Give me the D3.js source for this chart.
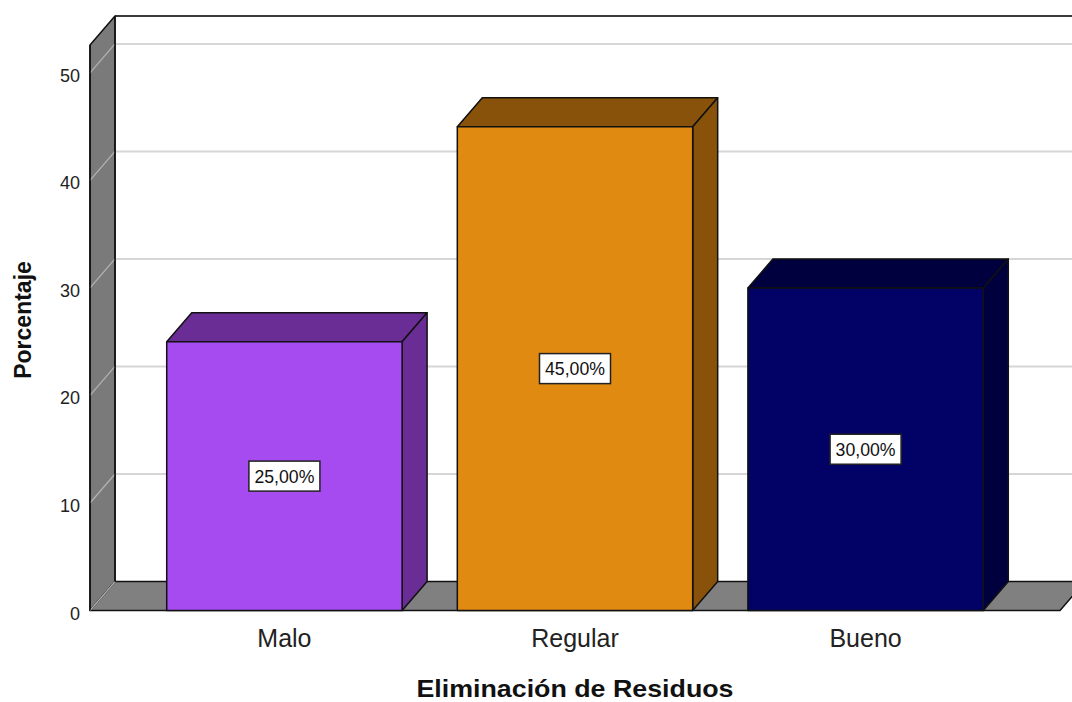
<!DOCTYPE html>
<html>
<head>
<meta charset="utf-8">
<script src="https://cdn.jsdelivr.net/npm/d3@7"></script>
<style>
  html, body { margin: 0; padding: 0; background: #fff; }
  svg { display: block; font-family: "Liberation Sans", Arial, sans-serif; }
</style>
</head>
<body>
<svg id="chart" width="1072" height="702"></svg>
<script>
// Data
const categories = ["Malo", "Regular", "Bueno"];
const values = [25, 45, 30];
const valueLabels = ["25,00%", "45,00%", "30,00%"];
const yTicks = [0, 10, 20, 30, 40, 50];

// Colours per category: front face and shaded faces (top/side)
const frontColors = ["#a64bf0", "#e08a12", "#020266"];
const shadeColors = ["#6a2c95", "#88520a", "#00003f"];

const svg = d3.select("#chart");

// Front plane geometry and 3D depth offset
const x0 = 90, x1 = 1060;
const depthX = 25, depthY = -29;

const x = d3.scaleBand()
  .domain(categories)
  .range([x0, x1])
  .paddingInner(0.19)
  .paddingOuter(0.264);

const y = d3.scaleLinear()
  .domain([0, 52.6])
  .range([610.5, 45]);

const yMax = y.domain()[1];
const pts = a => a.map(p => p.join(",")).join(" ");

// Back wall gridlines
svg.append("g").selectAll("line.grid")
  .data(yTicks.filter(t => t > 0))
  .join("line")
  .attr("x1", x0 + depthX).attr("x2", x1 + depthX + 40)
  .attr("y1", d => y(d) + depthY).attr("y2", d => y(d) + depthY)
  .attr("stroke", "#d6d6d6").attr("stroke-width", 2);

// Back wall top edge
svg.append("line")
  .attr("x1", x0 + depthX).attr("x2", x1 + depthX + 40)
  .attr("y1", y(yMax) + depthY).attr("y2", y(yMax) + depthY)
  .attr("stroke", "#3a3a3a").attr("stroke-width", 2);

// Left wall
svg.append("polygon")
  .attr("points", pts([
    [x0, y(yMax)], [x0 + depthX, y(yMax) + depthY],
    [x0 + depthX, y(0) + depthY], [x0, y(0)]
  ]))
  .attr("fill", "#7a7a7a").attr("stroke", "#111").attr("stroke-width", 1.5)
  .attr("stroke-linejoin", "round");

// Floor
svg.append("polygon")
  .attr("points", pts([
    [x0, y(0)], [x0 + depthX, y(0) + depthY],
    [x1 + depthX, y(0) + depthY], [x1, y(0)]
  ]))
  .attr("fill", "#808080").attr("stroke", "#111").attr("stroke-width", 1.5)
  .attr("stroke-linejoin", "round");

// Gridline traces across the left wall
svg.append("g").selectAll("line")
  .data(yTicks)
  .join("line")
  .attr("x1", x0).attr("y1", d => y(d))
  .attr("x2", x0 + depthX).attr("y2", d => y(d) + depthY)
  .attr("stroke", "#b4b4b4").attr("stroke-width", 1.2);

// Redraw wall outlines on top of the traces
svg.append("line")
  .attr("x1", x0 + depthX).attr("x2", x0 + depthX)
  .attr("y1", y(yMax) + depthY).attr("y2", y(0) + depthY)
  .attr("stroke", "#111").attr("stroke-width", 1.5);
svg.append("line")
  .attr("x1", x0).attr("x2", x0)
  .attr("y1", y(yMax)).attr("y2", y(0))
  .attr("stroke", "#111").attr("stroke-width", 1.5);

// 3D bars
const bars = svg.append("g").selectAll("g.bar")
  .data(categories.map((c, i) => ({ c, v: values[i], i })))
  .join("g").attr("class", "bar");

bars.each(function(d) {
  const g = d3.select(this);
  const l = x(d.c), r = x(d.c) + x.bandwidth();
  const t = y(d.v), b = y(0);
  // top face
  g.append("polygon")
    .attr("points", pts([[l, t], [l + depthX, t + depthY], [r + depthX, t + depthY], [r, t]]))
    .attr("fill", shadeColors[d.i]);
  // side face
  g.append("polygon")
    .attr("points", pts([[r, t], [r + depthX, t + depthY], [r + depthX, b + depthY], [r, b]]))
    .attr("fill", shadeColors[d.i]);
  // front face
  g.append("rect")
    .attr("x", l).attr("y", t).attr("width", r - l).attr("height", b - t)
    .attr("fill", frontColors[d.i]);
  // outlines
  g.selectAll("polygon, rect")
    .attr("stroke", "#111").attr("stroke-width", 1.5).attr("stroke-linejoin", "round");
});

// Value labels
const labels = svg.append("g").selectAll("g.lbl")
  .data(categories.map((c, i) => ({ c, v: values[i], txt: valueLabels[i] })))
  .join("g")
  .attr("transform", d => `translate(${x(d.c) + x.bandwidth() / 2},${(y(d.v) + y(0)) / 2})`);

labels.append("rect")
  .attr("x", -35.5).attr("y", -15).attr("width", 71).attr("height", 30)
  .attr("fill", "#fff").attr("stroke", "#222").attr("stroke-width", 1.5);

labels.append("text")
  .attr("text-anchor", "middle")
  .attr("dy", "0.36em")
  .attr("font-size", 19)
  .attr("fill", "#111")
  .attr("textLength", 60).attr("lengthAdjust", "spacingAndGlyphs")
  .text(d => d.txt);

// Y axis tick labels
svg.append("g").selectAll("text")
  .data(yTicks)
  .join("text")
  .attr("x", 80).attr("y", d => y(d) + 9)
  .attr("text-anchor", "end")
  .attr("font-size", 18)
  .attr("fill", "#222")
  .text(d => d);

// X axis category labels
svg.append("g").selectAll("text")
  .data(categories)
  .join("text")
  .attr("x", d => x(d) + x.bandwidth() / 2)
  .attr("y", 647)
  .attr("text-anchor", "middle")
  .attr("font-size", 25)
  .attr("fill", "#222")
  .text(d => d);

// Axis titles
svg.append("text")
  .attr("x", 575).attr("y", 697)
  .attr("text-anchor", "middle")
  .attr("font-size", 24).attr("font-weight", "bold")
  .attr("fill", "#111")
  .attr("textLength", 317).attr("lengthAdjust", "spacingAndGlyphs")
  .text("Eliminación de Residuos");

svg.append("text")
  .attr("transform", "translate(31,320) rotate(-90)")
  .attr("text-anchor", "middle")
  .attr("font-size", 23).attr("font-weight", "bold")
  .attr("fill", "#111")
  .text("Porcentaje");
</script>
</body>
</html>
